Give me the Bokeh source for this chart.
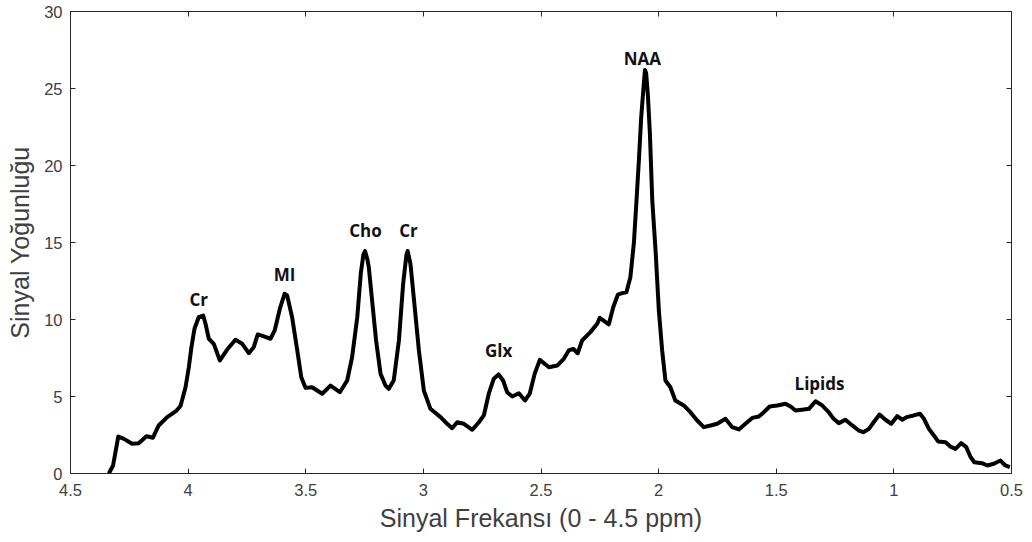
from bokeh.plotting import figure
from bokeh.models import Range1d, LinearAxis, FixedTicker, ColumnDataSource
from bokeh.core.properties import value
from bokeh.embed import file_html
from bokeh.resources import INLINE

# ---- data ----
ppm = [4.337, 4.319, 4.297, 4.273, 4.238, 4.21, 4.177, 4.15, 4.125, 4.089,
       4.049, 4.032, 4.011, 3.997, 3.986, 3.973, 3.955, 3.936, 3.926, 3.912,
       3.891, 3.865, 3.834, 3.799, 3.77, 3.742, 3.721, 3.704, 3.678, 3.65,
       3.632, 3.61, 3.59, 3.579, 3.558, 3.536, 3.519, 3.501, 3.473, 3.43,
       3.395, 3.355, 3.324, 3.303, 3.281, 3.266, 3.255, 3.248, 3.238, 3.232,
       3.218, 3.201, 3.182, 3.161, 3.147, 3.126, 3.104, 3.086, 3.072, 3.067,
       3.055, 3.041, 3.019, 2.998, 2.97, 2.927, 2.906, 2.878, 2.856, 2.828,
       2.792, 2.764, 2.743, 2.722, 2.701, 2.68, 2.661, 2.644, 2.622, 2.594,
       2.568, 2.548, 2.527, 2.505, 2.466, 2.431, 2.403, 2.382, 2.363, 2.344,
       2.325, 2.29, 2.261, 2.25, 2.212, 2.193, 2.173, 2.155, 2.137, 2.12,
       2.105, 2.094, 2.084, 2.074, 2.063, 2.058, 2.053, 2.046, 2.037, 2.027,
       2.013, 1.999, 1.985, 1.971, 1.95, 1.929, 1.893, 1.865, 1.836, 1.808,
       1.779, 1.751, 1.716, 1.687, 1.659, 1.631, 1.602, 1.574, 1.553, 1.528,
       1.496, 1.461, 1.439, 1.418, 1.39, 1.361, 1.333, 1.305, 1.277, 1.256,
       1.234, 1.206, 1.177, 1.149, 1.13, 1.106, 1.086, 1.061, 1.036, 1.011,
       0.986, 0.964, 0.946, 0.916, 0.889, 0.872, 0.851, 0.83, 0.812, 0.78,
       0.76, 0.738, 0.714, 0.692, 0.675, 0.658, 0.625, 0.603, 0.575, 0.547,
       0.526, 0.507]
intensity = [0.0, 0.52, 2.4, 2.25, 1.93, 1.97, 2.42, 2.32, 3.12, 3.66,
             4.09, 4.4, 5.6, 6.9, 8.2, 9.4, 10.15, 10.26, 9.72, 8.75,
             8.42, 7.34, 8.05, 8.68, 8.42, 7.81, 8.2, 9.03, 8.9, 8.75,
             9.29, 10.7, 11.67, 11.56, 10.15, 7.99, 6.25, 5.56, 5.6, 5.18,
             5.71, 5.28, 6.04, 7.55, 10.15, 13.0, 14.2, 14.45, 13.9, 13.4,
             11.23, 8.64, 6.47, 5.71, 5.5, 6.04, 8.64, 12.32, 14.2, 14.45,
             13.62, 11.45, 7.99, 5.39, 4.2, 3.66, 3.33, 2.94, 3.33, 3.23,
             2.84, 3.33, 3.77, 5.18, 6.15, 6.43, 6.04, 5.28, 5.0, 5.21,
             4.74, 5.18, 6.47, 7.38, 6.9, 7.01, 7.45, 7.99, 8.1, 7.81,
             8.64, 9.18, 9.72, 10.11, 9.68, 10.8, 11.62, 11.71, 11.77, 12.75,
             15.0, 17.73, 20.32, 23.14, 25.3, 26.2, 26.0, 24.65, 22.06, 17.73,
             14.48, 10.58, 7.99, 6.04, 5.6, 4.74, 4.42, 3.98, 3.44, 3.01,
             3.12, 3.23, 3.55, 3.01, 2.86, 3.23, 3.61, 3.7, 3.98, 4.35,
             4.42, 4.53, 4.35, 4.09, 4.14, 4.2, 4.69, 4.42, 3.98, 3.55,
             3.27, 3.49, 3.12, 2.79, 2.68, 2.9, 3.33, 3.83, 3.49, 3.23,
             3.72, 3.49, 3.66, 3.77, 3.88, 3.55, 2.9, 2.47, 2.08, 2.03,
             1.75, 1.6, 1.97, 1.71, 1.1, 0.73, 0.67, 0.52, 0.63, 0.84,
             0.52, 0.41]

peak_names = ["Cr", "MI", "Cho", "Cr", "Glx", "NAA", "Lipids"]
peak_x = [3.955, 3.59, 3.246, 3.063, 2.68, 2.069, 1.316]
peak_y = [11.3, 12.9, 15.8, 15.8, 8.0, 26.95, 5.84]

x_ticks = [4.5, 4.0, 3.5, 3.0, 2.5, 2.0, 1.5, 1.0, 0.5]
x_tick_labels = ["4.5", "4", "3.5", "3", "2.5", "2", "1.5", "1", "0.5"]
y_ticks = [0, 5, 10, 15, 20, 25, 30]
y_tick_labels = ["0", "5", "10", "15", "20", "25", "30"]

x_title = "Sinyal Frekansı (0 - 4.5 ppm)"
y_title = "Sinyal Yoğunluğu"

# ---- figure ----
AX = "#262626"
LBL = "#404040"

p = figure(width=1032, height=542,
           x_range=Range1d(4.5, 0.5), y_range=Range1d(0, 30),
           output_backend="svg", toolbar_location=None,
           min_border_left=70, min_border_right=21,
           min_border_top=11, min_border_bottom=69)
p.background_fill_color = "white"
p.border_fill_color = "white"
p.outline_line_color = AX
p.outline_line_width = 1
p.xgrid.grid_line_color = None
p.ygrid.grid_line_color = None

def style_axis(ax, ticks, labels, show_labels=True, standoff=10):
    ax.ticker = FixedTicker(ticks=ticks)
    ax.major_label_overrides = {t: l for t, l in zip(ticks, labels)}
    ax.minor_tick_line_color = None
    ax.major_tick_in = 5
    ax.major_tick_out = 0
    ax.major_tick_line_color = AX
    ax.axis_line_color = AX
    ax.major_label_text_font = "Liberation Sans"
    ax.major_label_text_color = LBL
    if show_labels:
        ax.major_label_text_font_size = "16.5px"
        ax.major_label_standoff = standoff
    else:
        ax.major_label_text_font_size = "0px"
        ax.major_label_standoff = 0

xa = p.xaxis[0]
ya = p.yaxis[0]
style_axis(xa, x_ticks, x_tick_labels, standoff=10)
style_axis(ya, y_ticks, y_tick_labels, standoff=8)
xa.axis_label = x_title
ya.axis_label = y_title
for ax in (xa, ya):
    ax.axis_label_text_font = "Liberation Sans"
    ax.axis_label_text_font_style = "normal"
    ax.axis_label_text_font_size = "25px"
    ax.axis_label_text_color = LBL
xa.axis_label_standoff = 5
ya.axis_label_standoff = 7

top = LinearAxis()
style_axis(top, x_ticks, ["" for _ in x_ticks], show_labels=False)
right = LinearAxis()
style_axis(right, y_ticks, ["" for _ in y_ticks], show_labels=False)
p.add_layout(top, "above")
p.add_layout(right, "right")

src = ColumnDataSource(dict(x=ppm, y=intensity))
p.line("x", "y", source=src, line_width=4, line_color="black", line_join="round")

lsrc = ColumnDataSource(dict(x=peak_x, y=peak_y, t=peak_names))
p.text("x", "y", text="t", source=lsrc, text_font=value("Open Sans"),
       text_font_style="bold", text_font_size="17px", text_color="#111111",
       text_align="center", text_baseline="middle")

open("out.html", "w").write(file_html(p, INLINE))
